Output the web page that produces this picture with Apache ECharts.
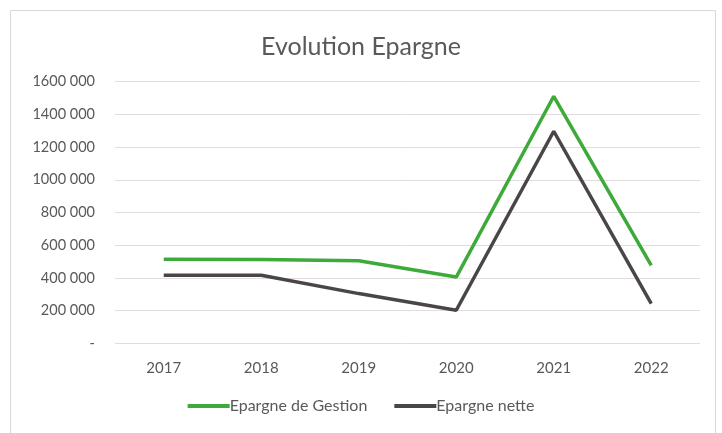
<!DOCTYPE html>
<html>
<head>
<meta charset="utf-8">
<script src="https://cdn.jsdelivr.net/npm/echarts@6/dist/echarts.min.js"></script>
<style>html,body{margin:0;padding:0;background:#fff}#c{width:722px;height:433px}</style>
</head>
<body>
<div id="c"></div>
<script>
const categories = ['2017', '2018', '2019', '2020', '2021', '2022'];
const epargneGestion = [514000, 512000, 505000, 405000, 1511000, 477000];
const epargneNette = [416000, 416000, 304000, 202000, 1297000, 243000];
const seriesNames = ['Epargne de Gestion', 'Epargne nette'];
const titleText = 'Evolution Epargne';

function fmt(v) {
  if (v === 0) return '-';
  const s = String(v);
  return s.slice(0, s.length - 3) + ' ' + s.slice(s.length - 3);
}

const chart = echarts.init(document.getElementById('c'), null, {renderer: 'canvas'});
const font = 'Lato, "Open Sans", sans-serif';
chart.setOption({
  animation: false,
  backgroundColor: '#fff',
  textStyle: {fontFamily: font},
  graphic: [{
    type: 'rect', left: 8, top: 8, shape: {width: 705, height: 423},
    style: {fill: 'none', stroke: '#d9d9d9', lineWidth: 1}
  }],
  title: {
    text: titleText, left: 'center', top: 29,
    textStyle: {fontFamily: font, fontSize: 25, fontWeight: 'normal', color: '#595959'}
  },
  legend: {
    bottom: 14, left: 'center', itemWidth: 42, itemHeight: 4, itemGap: 27,
    icon: 'rect',
    textStyle: {fontFamily: font, fontSize: 16, color: '#595959', padding: [0, 0, 0, -5]},
    data: seriesNames
  },
  grid: {left: 115, right: 22, top: 81.7, bottom: 89.7},
  xAxis: {
    type: 'category', data: categories, boundaryGap: true,
    axisLine: {show: false}, axisTick: {show: false},
    axisLabel: {color: '#595959', fontSize: 15, margin: 17, fontFamily: font}
  },
  yAxis: {
    type: 'value', min: 0, max: 1600000, interval: 200000,
    axisLine: {show: false}, axisTick: {show: false},
    splitLine: {lineStyle: {color: '#e3dcdc', width: 1}},
    axisLabel: {color: '#595959', fontSize: 14.5, margin: 20, fontFamily: font, formatter: fmt}
  },
  series: [
    {name: seriesNames[0], type: 'line', data: epargneGestion, symbol: 'none',
     lineStyle: {color: '#3daa3a', width: 3.5}, itemStyle: {color: '#3daa3a'}},
    {name: seriesNames[1], type: 'line', data: epargneNette, symbol: 'none',
     lineStyle: {color: '#4a4646', width: 3.5}, itemStyle: {color: '#4a4646'}}
  ]
});
</script>
</body>
</html>
